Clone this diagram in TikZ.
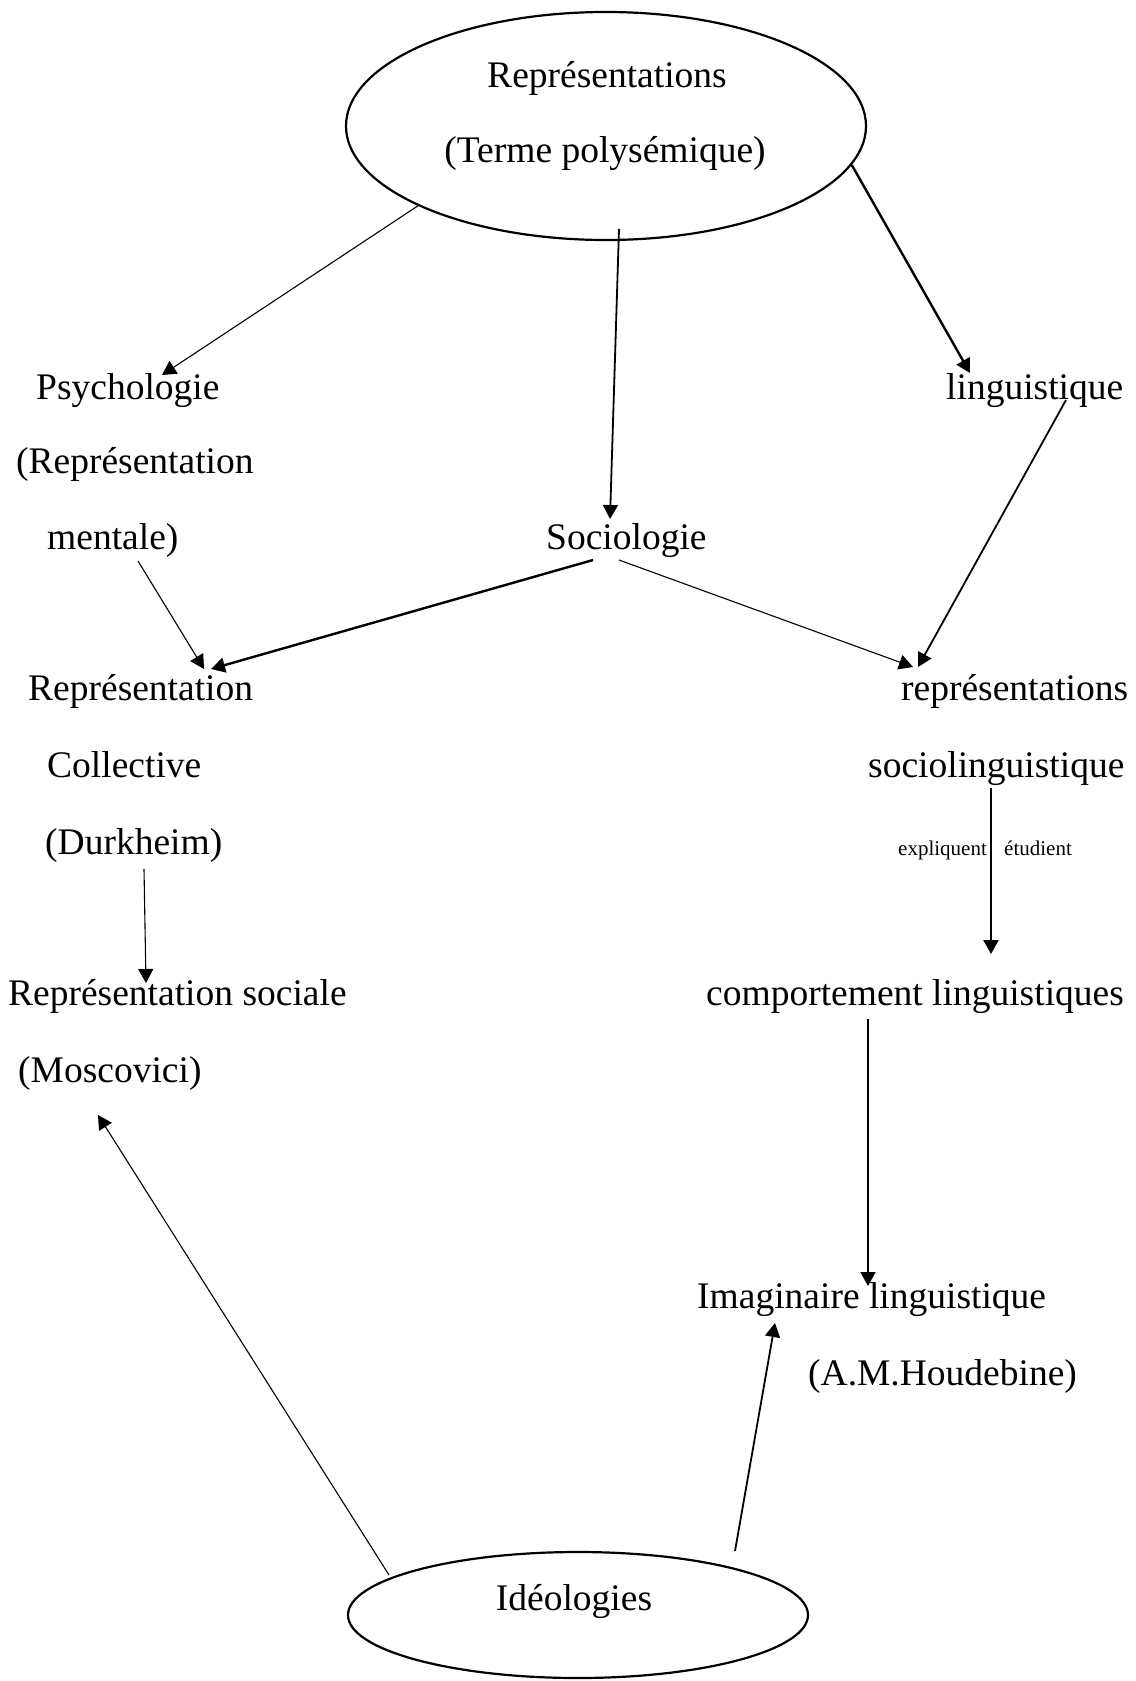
\documentclass[tikz,border=0pt]{standalone}
\usepackage{fontspec}
\setmainfont{Liberation Serif}
\usetikzlibrary{shapes.geometric,arrows.meta}
\newcommand\bigtxt{\fontsize{37.5}{45}\selectfont}
\newcommand\smalltxt{\fontsize{21}{25}\selectfont}
\tikzset{
  txt/.style={inner sep=0pt, anchor=base west, font=\bigtxt},
  ctxt/.style={inner sep=0pt, anchor=base, font=\bigtxt},
  stxt/.style={inner sep=0pt, anchor=base west, font=\smalltxt},
  oval/.style={ellipse, draw, line width=2.2pt, inner sep=0pt},
  tip/.style={-{Triangle[length=14pt,width=15pt]}},
  thinarr/.style={tip, line width=1.1pt},
  medarr/.style={tip, line width=1.8pt},
  thickarr/.style={tip, line width=2.4pt},
  plainline/.style={line width=1.1pt}
}
\begin{document}
\begin{tikzpicture}[x=1pt,y=-1pt]
\useasboundingbox (0,0) rectangle (1135,1681);
% ellipses
\node[oval, minimum width=520pt, minimum height=228pt] (top) at (606,126) {};
\node[ctxt] (topA) at (607,87) {Représentations};
\node[ctxt] (topB) at (605,162) {(Terme polysémique)};
\node[oval, minimum width=460pt, minimum height=126pt] (ideo) at (578,1615) {};
\node[ctxt] (ideoT) at (574,1610) {Idéologies};
% left column
\node[txt] (psy) at (36,399) {Psychologie};
\node[txt] (psyB) at (16,473) {(Représentation};
\node[txt] (psyC) at (47,549) {mentale)};
\node[txt] (coll) at (28,700) {Représentation};
\node[txt] (collB) at (47,777) {Collective};
\node[txt] (collC) at (45,854) {(Durkheim)};
\node[txt] (soc) at (8,1005) {Représentation sociale};
\node[txt] (socB) at (18,1082) {(Moscovici)};
% middle
\node[txt] (sociol) at (546,549) {Sociologie};
% right column
\node[txt] (ling) at (946,399) {linguistique};
\node[txt] (rsl) at (901,700) {représentations};
\node[txt] (rslB) at (868,777) {sociolinguistique};
\node[stxt] (expl) at (898,855) {expliquent};
\node[stxt] (etud) at (1004,855) {étudient};
\node[txt] (comp) at (706,1005) {comportement linguistiques};
\node[txt] (imag) at (697,1308) {Imaginaire linguistique};
\node[txt] (imagB) at (808,1385) {(A.M.Houdebine)};
% connector end points
\coordinate (psyIn) at (162,375);
\coordinate (topS) at (619,229);
\coordinate (socIn) at (610,519);
\coordinate (lingIn) at (970,373);
\coordinate (lingOut) at (1066,400);
\coordinate (rslIn) at (918,667);
\coordinate (psyOut) at (138,561);
\coordinate (collIn) at (204,669);
\coordinate (sociolL) at (593,560);
\coordinate (collIn2) at (211,669);
\coordinate (sociolR) at (619,560);
\coordinate (rslIn2) at (913,667);
\coordinate (collOut) at (144,869);
\coordinate (socIn2) at (146,983);
\coordinate (rslOut) at (991,788);
\coordinate (compIn) at (991,954);
\coordinate (compOut) at (868,1019);
\coordinate (imagIn) at (868,1286);
\coordinate (socBIn) at (98,1115);
\coordinate (ideoL) at (389,1575);
\coordinate (ideoR) at (735,1551);
\coordinate (imagIn2) at (775,1323);
% connectors
\draw[thinarr] (top.203.5) -- (psyIn);
\draw[medarr] (topS) -- (socIn);
\draw[thickarr] (top.351.3) -- (lingIn);
\draw[medarr] (lingOut) -- (rslIn);
\draw[thinarr] (psyOut) -- (collIn);
\draw[thickarr] (sociolL) -- (collIn2);
\draw[thinarr] (sociolR) -- (rslIn2);
\draw[thinarr] (collOut) -- (socIn2);
\draw[thickarr] (rslOut) -- (compIn);
\draw[medarr] (compOut) -- (imagIn);
\draw[thinarr] (ideoL) -- (socBIn);
\draw[medarr] (ideoR) -- (imagIn2);
\end{tikzpicture}
\end{document}
